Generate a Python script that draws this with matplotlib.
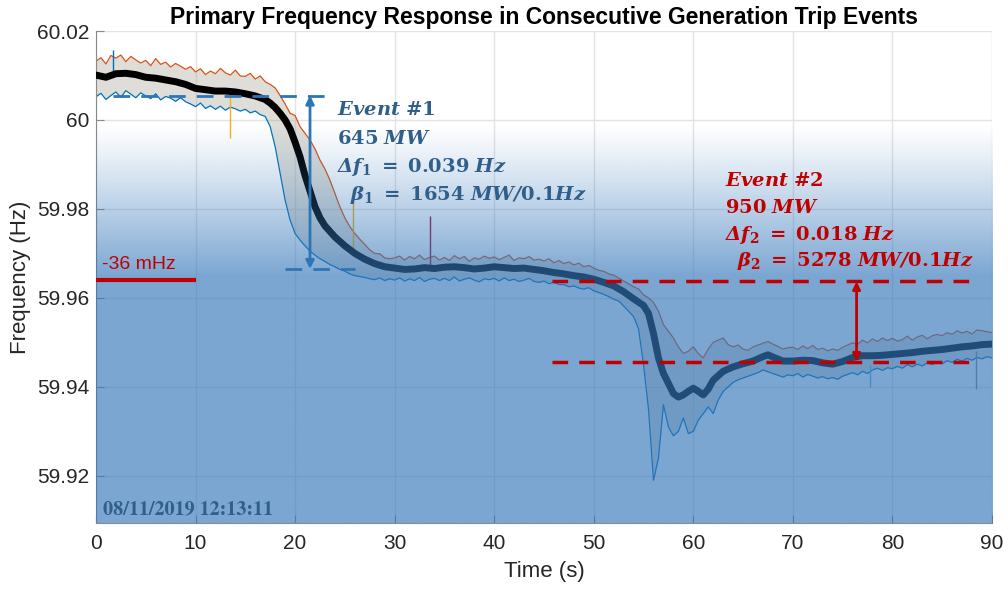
import numpy as np
import matplotlib.pyplot as plt

plt.rcParams['font.family'] = ['Liberation Sans', 'DejaVu Sans']
plt.rcParams['mathtext.fontset'] = 'dejavuserif'

# ---- data (frequency deviations in mHz relative to 60 Hz) ----
# smoothed system frequency (average of all PMUs)
mean_t = [0, 1, 2, 3, 4, 5, 6, 7, 8, 9, 10, 11, 12, 13, 14, 15, 16, 17, 17.5, 18, 18.5,
          19, 19.5, 20, 20.5, 21, 21.5, 22, 22.5, 23, 24, 25, 26, 27, 28, 29, 30, 31, 32,
          33, 34, 35, 36, 37, 38, 39, 40, 41, 42, 43, 44, 45, 46, 47, 48, 49, 50, 51, 52,
          53, 54, 55, 55.5, 56, 56.5, 57, 57.5, 58, 58.5, 59, 59.5, 60, 60.5, 61, 61.5,
          62, 62.5, 63, 64, 65, 66, 67, 67.5, 68, 69, 70, 71, 72, 73, 74, 75, 76, 77, 78,
          79, 80, 81, 82, 83, 84, 85, 86, 87, 88, 89, 90]
mean_mhz = [10.1, 9.6, 10.4, 10.5, 10.2, 9.6, 9.4, 9.0, 8.6, 8.0, 7.1, 6.8, 6.5, 6.5, 6.3,
            5.9, 5.4, 4.6, 3.8, 2.8, 1.5, 0.0, -2.0, -5.0, -8.3, -12.5, -16.0, -19.5, -22.0,
            -23.8, -26.3, -28.3, -30.0, -31.3, -32.3, -33.0, -33.3, -33.6, -33.5, -33.2,
            -33.4, -33.1, -33.0, -33.2, -33.5, -33.3, -33.0, -33.2, -33.4, -33.3, -33.6,
            -33.9, -34.3, -34.6, -35.0, -35.3, -35.8, -36.5, -37.3, -38.6, -40.2, -41.7,
            -43.5, -48.0, -53.5, -57.0, -59.2, -61.5, -62.3, -61.8, -61.0, -60.3, -61.0,
            -61.8, -60.5, -58.5, -57.5, -56.5, -55.5, -54.8, -54.2, -53.2, -52.8, -53.3,
            -54.2, -54.2, -54.0, -54.1, -54.6, -54.9, -54.3, -53.4, -53.0, -53.0, -52.9,
            -52.7, -52.5, -52.3, -52.0, -51.8, -51.6, -51.3, -51.0, -50.8, -50.5, -50.4]

# spread of the individual PMU traces, sampled every 0.5 s from 0 to 90 s
env_t = np.arange(0, 90.5, 0.5)
upper_mhz = [13.2, 14.0, 12.6, 14.5, 13.9, 14.6, 13.1, 14.3, 13.5, 12.8,
             13.4, 12.2, 13.8, 12.5, 13.0, 11.9, 12.7, 12.1, 11.4, 12.0,
             10.8, 11.5, 10.2, 11.0, 10.4, 11.6, 10.6, 10.1, 11.2, 9.9,
             9.8, 10.5, 9.2, 9.9, 8.6, 8.0, 7.2, 5.5, 3.6, 1.5,
             1.0, -1.5, -3.0, -4.5, -6.5, -9.0, -11.0, -13.5, -16.5, -19.5,
             -22.0, -24.0, -25.5, -26.8, -28.0, -29.2, -30.0, -30.1, -31.0, -31.2,
             -31.0, -30.6, -31.5, -30.7, -31.2, -30.4, -31.4, -30.9, -30.6, -31.5,
             -30.9, -31.6, -30.5, -31.2, -30.7, -31.8, -31.0, -31.3, -30.6, -31.1,
             -30.8, -31.4, -30.9, -30.4, -31.6, -31.0, -31.2, -30.7, -31.5, -31.3,
             -31.7, -31.2, -32.1, -31.6, -32.3, -31.9, -32.6, -32.2, -33.0, -32.7,
             -33.3, -33.8, -34.0, -34.6, -34.9, -35.5, -36.2, -36.8, -37.5, -38.0,
             -39.3, -40.0, -41.0, -43.0, -46.0, -47.5, -49.0, -51.0, -52.5, -52.0,
             -51.0, -52.5, -53.5, -51.5, -50.0, -49.5, -49.0, -50.5, -51.0, -50.6,
             -51.5, -51.8, -51.0, -50.6, -50.2, -49.8, -50.4, -50.9, -51.5, -51.2,
             -51.1, -51.6, -50.8, -51.4, -50.7, -51.6, -51.3, -51.9, -51.5, -51.8,
             -51.1, -50.6, -50.1, -50.4, -49.5, -50.1, -49.2, -49.8, -49.0, -49.6,
             -49.1, -49.7, -49.4, -48.6, -49.5, -48.8, -48.4, -49.2, -48.5, -48.2,
             -48.5, -47.8, -48.2, -47.4, -47.9, -47.5, -48.1, -47.2, -47.4, -47.6,
             -47.8]
lower_mhz = [5.2, 6.0, 4.6, 5.5, 6.3, 5.1, 6.6, 5.8, 5.0, 6.1,
             5.4, 4.8, 5.9, 4.5, 5.3, 4.9, 4.2, 5.0, 4.1, 3.6,
             3.0, 3.8, 2.6, 3.2, 2.4, 3.1, 2.2, 2.9, 2.5, 2.0,
             2.4, 1.6, 2.0, 1.2, 0.8, -1.5, -6.0, -12.0, -18.0, -22.5,
             -25.5, -27.0, -28.3, -29.5, -30.4, -31.2, -31.8, -32.5, -33.0, -33.6,
             -34.0, -34.6, -35.0, -35.2, -35.4, -35.7, -35.9, -35.5, -36.1, -35.7,
             -36.0, -35.5, -36.2, -35.7, -36.1, -35.4, -36.3, -35.8, -35.6, -36.1,
             -35.6, -36.1, -35.3, -36.2, -35.8, -35.5, -36.0, -36.4, -35.7, -35.9,
             -35.6, -36.2, -35.5, -36.1, -35.8, -36.3, -36.0, -35.6, -36.3, -36.5,
             -36.2, -36.8, -36.5, -37.0, -37.0, -37.5, -37.3, -37.8, -38.0, -37.7,
             -38.4, -38.8, -39.2, -39.7, -40.3, -40.7, -41.8, -43.0, -44.2, -47.0,
             -55.0, -65.0, -81.0, -76.0, -64.0, -69.0, -71.0, -70.0, -67.0, -70.5,
             -70.0, -67.5, -66.0, -64.5, -66.0, -63.0, -61.0, -60.0, -59.0, -58.4,
             -58.0, -57.6, -57.2, -56.8, -56.2, -56.6, -57.0, -57.4, -57.8, -57.3,
             -57.5, -57.0, -57.8, -57.2, -57.6, -58.0, -57.7, -58.2, -57.9, -58.3,
             -57.6, -57.2, -56.8, -57.3, -56.5, -57.0, -56.2, -55.8, -56.3, -55.7,
             -55.9, -55.4, -55.8, -55.0, -55.5, -54.9, -55.3, -54.6, -55.0, -54.4,
             -54.8, -54.1, -54.5, -53.8, -54.2, -53.6, -54.0, -53.4, -53.7, -53.2,
             -53.5]

# single-sample outliers from individual PMUs
spike_t = [1.7, 13.5, 25.8, 33.6, 77.7, 88.4]
spike_base = [11.0, 6.0, -29.0, -33.0, -55.0, -52.0]
spike_peak = [15.7, -4.0, -15.5, -21.5, -60.0, -60.5]
spike_color = ['#0072BD', '#EDB120', '#EDB120', '#A2142F', '#4DBEEE', '#8C8C8C']

# event annotations (Hz)
ev1_top, ev1_bot = 60.0055, 59.9665
ev2_top, ev2_bot = 59.9637, 59.9457
nadir_ref = 59.964

f0 = 60.0
freq_mean = f0 + np.array(mean_mhz) / 1000
freq_hi = f0 + np.array(upper_mhz) / 1000
freq_lo = f0 + np.array(lower_mhz) / 1000

y_min, y_max = 59.9094, 60.02

fig = plt.figure(figsize=(10.08, 5.92), dpi=100)
ax = fig.add_axes([0.0952, 0.1166, 0.8889, 0.831])
ax.set_axisbelow(True)

# PMU traces
ax.fill_between(env_t, freq_lo, freq_hi, color='#A3A08F', alpha=0.35, lw=0, zorder=2)
ax.plot(env_t, freq_hi, color='#D95319', lw=0.9, zorder=2.1)
ax.plot(env_t, freq_lo, color='#0072BD', lw=0.9, zorder=2.1)
ax.vlines(spike_t, f0 + np.array(spike_base) / 1000, f0 + np.array(spike_peak) / 1000,
          colors=spike_color, lw=1.0, zorder=2.1)
ax.plot(mean_t, freq_mean, color='black', lw=5, solid_capstyle='round', zorder=3)

# shaded band below the nominal operating range
yy = np.linspace(y_max, y_min, 400)
s = np.clip((59.9990 - yy) / (59.9990 - 59.9650), 0, 1)
alpha = 0.65 * s ** 1.1
rgba = np.zeros((len(yy), 2, 4))
rgba[..., 0] = 52 / 255
rgba[..., 1] = 118 / 255
rgba[..., 2] = 186 / 255
rgba[..., 3] = alpha[:, None]
ax.imshow(rgba, extent=[0, 90, y_min, y_max], aspect='auto', origin='upper',
          interpolation='bilinear', zorder=4)

# event 1 markers
blue = '#2E75B6'
ax.hlines(ev1_top, 1.7, 23.8, colors=blue, linestyles=(0, (6, 4)), lw=2, zorder=5)
ax.hlines(ev1_bot, 19.0, 26.0, colors=blue, linestyles=(0, (6, 4)), lw=2, zorder=5)
ax.annotate('', xy=(21.5, ev1_bot), xytext=(21.5, ev1_top),
            arrowprops=dict(arrowstyle='<|-|>', color=blue, lw=2, mutation_scale=12,
                            shrinkA=0, shrinkB=0), zorder=6)

# event 2 markers
red = '#C00000'
ax.hlines(ev2_top, 45.8, 88.3, colors=red, linestyles=(0, (4.5, 3.2)), lw=2.5, zorder=5)
ax.hlines(ev2_bot, 45.8, 88.3, colors=red, linestyles=(0, (4.5, 3.2)), lw=2.5, zorder=5)
ax.annotate('', xy=(76.4, ev2_bot), xytext=(76.4, ev2_top),
            arrowprops=dict(arrowstyle='<|-|>', color=red, lw=2, mutation_scale=11,
                            shrinkA=0, shrinkB=0), zorder=6)

# -36 mHz reference
ax.hlines(nadir_ref, 0, 10, colors=red, lw=3, zorder=5)
ax.text(0.6, 59.9674, '-36 mHz', color=red, fontsize=14, va='center', ha='left', zorder=6)

# event labels
txt_blue = '#2F5F8A'
ev1_lines = [r'$\mathbfit{Event}\ \mathbf{\#1}$',
             r'$\mathbf{645}\ \mathbfit{MW}$',
             r'$\mathbfit{\Delta f}_{\mathbf{1}}\ \mathbf{=}\ \mathbf{0.039}\ \mathbfit{Hz}$']
for txt, yv in zip(ev1_lines, [60.00225, 59.99573, 59.98944]):
    ax.text(24.2, yv, txt, color=txt_blue, fontsize=14, va='center', ha='left', zorder=6)
ax.text(25.5, 59.98315, r'$\mathbfit{\beta}_{\mathbf{1}}\ \mathbf{=}\ \mathbf{1654}\ \mathbfit{MW/}\mathbf{0.1}\mathbfit{Hz}$',
        color=txt_blue, fontsize=14, va='center', ha='left', zorder=6)

ev2_lines = [r'$\mathbfit{Event}\ \mathbf{\#2}$',
             r'$\mathbf{950}\ \mathbfit{MW}$',
             r'$\mathbfit{\Delta f}_{\mathbf{2}}\ \mathbf{=}\ \mathbf{0.018}\ \mathbfit{Hz}$']
for txt, yv in zip(ev2_lines, [59.9863, 59.9802, 59.9742]):
    ax.text(63.2, yv, txt, color=red, fontsize=14, va='center', ha='left', zorder=6)
ax.text(64.4, 59.9683, r'$\mathbfit{\beta}_{\mathbf{2}}\ \mathbf{=}\ \mathbf{5278}\ \mathbfit{MW/}\mathbf{0.1}\mathbfit{Hz}$',
        color=red, fontsize=14, va='center', ha='left', zorder=6)

ax.text(0.7, 59.9124, '08/11/2019 12:13:11', family='STIXGeneral', fontweight='bold',
        color='#2F5F8A', fontsize=14.5, va='center', ha='left', zorder=6)

# axes styling
ax.set_xlim(0, 90)
ax.set_ylim(y_min, y_max)
ax.set_xticks(np.arange(0, 91, 10))
ax.set_yticks([59.92, 59.94, 59.96, 59.98, 60.0, 60.02])
ax.set_yticklabels(['59.92', '59.94', '59.96', '59.98', '60', '60.02'])
ax.grid(True, color='#E3E3E3', lw=1)
ax.tick_params(direction='in', length=6, width=0.8, colors='#8A8A8A', labelcolor='#262626',
               labelsize=15)
ax.tick_params(axis='x', pad=8)
ax.tick_params(axis='y', pad=5)
for side in ['top', 'right']:
    ax.spines[side].set_visible(False)
for side in ['left', 'bottom']:
    ax.spines[side].set_color('#8A8A8A')
ax.set_xlabel('Time (s)', fontsize=16, color='#262626', labelpad=6)
ax.set_ylabel('Frequency (Hz)', fontsize=16, color='#262626', labelpad=4)
ax.set_title('Primary Frequency Response in Consecutive Generation Trip Events',
             fontsize=16.5, fontweight='bold', color='black', pad=5)

fig.savefig('out.png', dpi=100)
